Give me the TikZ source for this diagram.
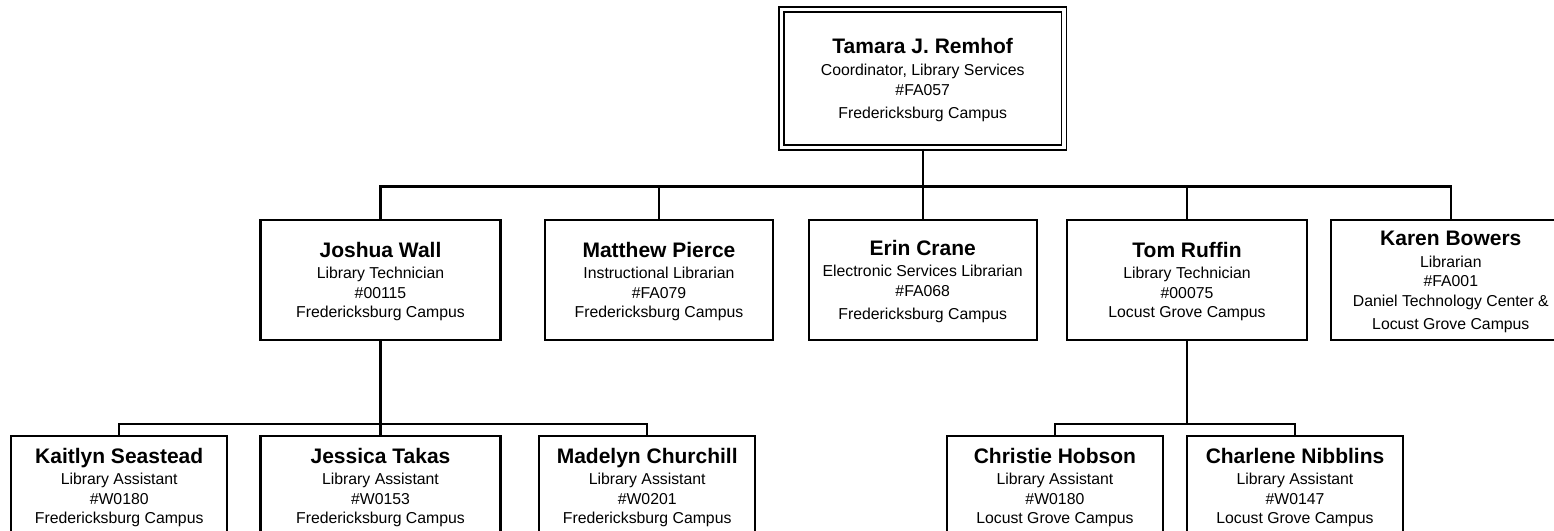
\documentclass[tikz,border=0pt]{standalone}
\usepackage{fontspec}
\setmainfont{Liberation Sans}
\newcommand\nm[1]{{\fontsize{21}{19.5}\selectfont\bfseries\rule{0pt}{18.5pt}#1}}
\tikzset{
  orgbox/.style={draw, line width=2.1pt, inner sep=0pt, align=center,
    font=\fontsize{15.8}{19.5}\selectfont},
  midbox/.style={orgbox, minimum height=120pt},
  lowbox/.style={orgbox, minimum height=100pt},
  topbox/.style={orgbox, line width=1.9pt, double, double distance=3.1pt,
    minimum width=282.5pt, minimum height=138.6pt},
  link/.style={line width=2.1pt}
}
\begin{document}
\begin{tikzpicture}[x=1pt,y=-1pt]
\useasboundingbox (0,0) rectangle (1554,530);
\clip (0,0) rectangle (1554,530);
\fill[white] (0,0) rectangle (1554,530);

\node[topbox] (top) at (922.7,78.6) {\nm{Tamara J. Remhof}\\[2.3pt] Coordinator, Library Services\\ \#FA057\\[4pt] Fredericksburg Campus};

\node[midbox, minimum width=240pt] (joshua) at (380.5,280) {\nm{Joshua Wall}\\[2pt] Library Technician\\ \#00115\\ Fredericksburg Campus};
\node[midbox, minimum width=228pt] (matthew) at (659,280) {\nm{Matthew Pierce}\\[2pt] Instructional Librarian\\ \#FA079\\ Fredericksburg Campus};
\node[midbox, minimum width=228pt] (erin) at (922.7,280) {\nm{Erin Crane}\\[2pt] Electronic Services Librarian\\ \#FA068\\[4pt] Fredericksburg Campus};
\node[midbox, minimum width=240pt] (tom) at (1187,280) {\nm{Tom Ruffin}\\[2pt] Library Technician\\ \#00075\\ Locust Grove Campus};
\node[midbox, minimum width=240pt] (karen) at (1450.8,280) {\nm{Karen Bowers}\\[2pt] Librarian\\ \#FA001\\ Daniel Technology Center \&\\[4pt] Locust Grove Campus};

\node[lowbox, minimum width=216pt] (kaitlyn) at (119.2,486) {\nm{Kaitlyn Seastead}\\[2pt] Library Assistant\\ \#W0180\\ Fredericksburg Campus};
\node[lowbox, minimum width=240pt] (jessica) at (380.5,486) {\nm{Jessica Takas}\\[2pt] Library Assistant\\ \#W0153\\ Fredericksburg Campus};
\node[lowbox, minimum width=216pt] (madelyn) at (647.2,486) {\nm{Madelyn Churchill}\\[2pt] Library Assistant\\ \#W0201\\ Fredericksburg Campus};
\node[lowbox, minimum width=216pt] (christie) at (1054.9,486) {\nm{Christie Hobson}\\[2pt] Library Assistant\\ \#W0180\\ Locust Grove Campus};
\node[lowbox, minimum width=216pt] (charlene) at (1295,486) {\nm{Charlene Nibblins}\\[2pt] Library Assistant\\ \#W0147\\ Locust Grove Campus};

\coordinate (busA) at (0,186.5);
\coordinate (busB) at (0,424);

\draw[link] (top.south) -- (erin.north);
\draw[link] (joshua.north) -- (joshua.north |- busA) -- (karen.north |- busA) -- (karen.north);
\draw[link] (matthew.north |- busA) -- (matthew.north);
\draw[link] (tom.north |- busA) -- (tom.north);

\draw[link] (joshua.south) -- (jessica.north);
\draw[link] (kaitlyn.north) -- (kaitlyn.north |- busB) -- (madelyn.north |- busB) -- (madelyn.north);

\draw[link] (tom.south) -- (tom.south |- busB);
\draw[link] (christie.north) -- (christie.north |- busB) -- (charlene.north |- busB) -- (charlene.north);
\end{tikzpicture}
\end{document}
